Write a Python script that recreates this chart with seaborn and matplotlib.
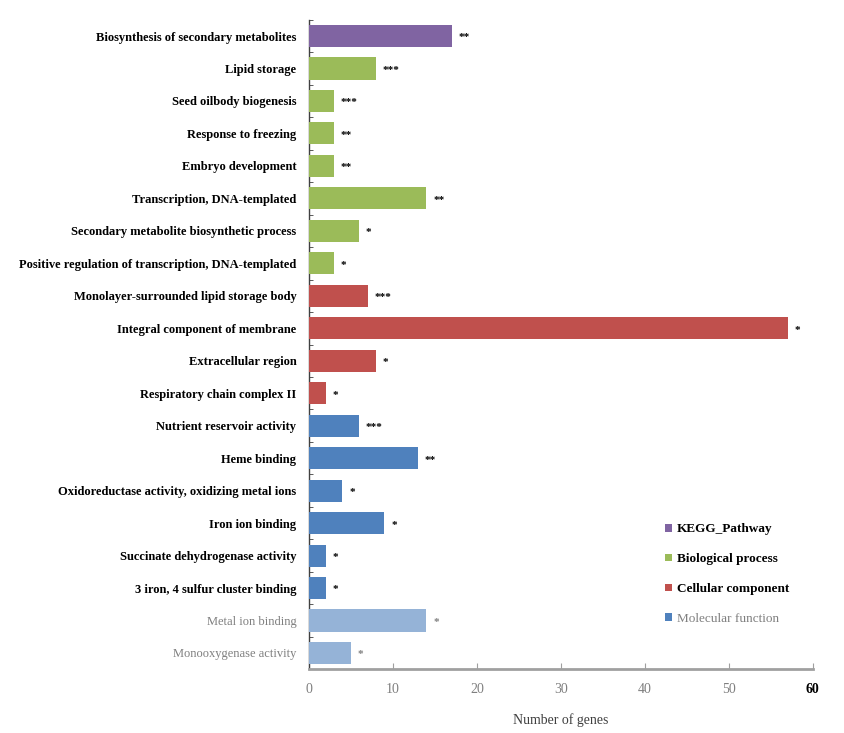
import numpy as np
import pandas as pd
import matplotlib
matplotlib.use("Agg")
import matplotlib.pyplot as plt
from matplotlib.patches import Patch
import seaborn as sns

# data
terms = [
    "Biosynthesis of secondary metabolites",
    "Lipid storage",
    "Seed oilbody biogenesis",
    "Response to freezing",
    "Embryo development",
    "Transcription, DNA-templated",
    "Secondary metabolite biosynthetic process",
    "Positive regulation of transcription, DNA-templated",
    "Monolayer-surrounded lipid storage body",
    "Integral component of membrane",
    "Extracellular region",
    "Respiratory chain complex II",
    "Nutrient reservoir activity",
    "Heme binding",
    "Oxidoreductase activity, oxidizing metal ions",
    "Iron ion binding",
    "Succinate dehydrogenase activity",
    "3 iron, 4 sulfur cluster binding",
    "Metal ion binding",
    "Monooxygenase activity",
]
n_genes = [17, 8, 3, 3, 3, 14, 6, 3, 7, 57, 8, 2, 6, 13, 4, 9, 2, 2, 14, 5]
stars = ["**", "***", "***", "**", "**", "**", "*", "*", "***", "*",
         "*", "*", "***", "**", "*", "*", "*", "*", "*", "*"]
groups = (["KEGG_Pathway"] + ["Biological process"] * 7 + ["Cellular component"] * 4
          + ["Molecular function"] * 6 + ["Molecular function (other)"] * 2)

group_names = ["KEGG_Pathway", "Biological process", "Cellular component",
               "Molecular function", "Molecular function (other)"]
group_colors = ["#8064A2", "#9BBB59", "#C0504D", "#4F81BD", "#95B3D7"]

df = pd.DataFrame({"term": terms, "n": n_genes, "group": groups})

serif = ["Liberation Serif", "DejaVu Serif"]
plt.rcParams["font.family"] = serif

fig = plt.figure(figsize=(8.44, 7.33), dpi=100)
ax = fig.add_axes([0.366, 0.087, 0.597, 0.886])

sns.barplot(data=df, y="term", x="n", hue="group", hue_order=group_names,
            palette=group_colors, saturation=1, dodge=False, width=0.68,
            legend=False, orient="h", ax=ax, zorder=3)

ax.set_xlim(0, 60)
ax.set_ylim(len(terms) - 0.5, -0.5)
ax.set_xticks(range(0, 61, 10))
ax.set_xticklabels([str(v) for v in range(0, 61, 10)], fontsize=10, color="#7f7f7f")
ax.get_xticklabels()[-1].set_color("black")
ax.get_xticklabels()[-1].set_fontweight("bold")
ax.tick_params(axis="x", direction="in", length=4, color="#a0a0a0", pad=10)
ax.set_xlabel("Number of genes", fontsize=10, color="#404040", labelpad=12)
ax.set_ylabel("")

ax.set_yticks(range(len(terms)))
ax.set_yticklabels(terms, fontsize=9, fontweight="bold")
for lab in ax.get_yticklabels()[-2:]:
    lab.set_color("#7f7f7f")
    lab.set_fontweight("normal")
ax.tick_params(axis="y", length=0, pad=9)
ax.set_yticks(np.arange(len(terms) + 1) - 0.5, minor=True)
ax.tick_params(axis="y", which="minor", direction="in", length=3, color="#404040")

for s in ["top", "right"]:
    ax.spines[s].set_visible(False)
ax.spines["left"].set_color("#404040")
ax.spines["left"].set_linewidth(1.0)
ax.spines["bottom"].set_color("#a0a0a0")
ax.spines["bottom"].set_linewidth(2.0)

# significance stars
for i, (v, st) in enumerate(zip(n_genes, stars)):
    col = "#7f7f7f" if i >= 18 else "black"
    ax.text(v + 0.8, i + 0.06, st, va="center", ha="left", fontsize=8,
            fontweight="bold", color=col, zorder=4)

# legend
handles = [Patch(facecolor=c) for c in group_colors[:4]]
leg = ax.legend(handles, group_names[:4], loc="lower left",
                bbox_to_anchor=(0.683, 0.05), frameon=False,
                handlelength=0.5, handleheight=0.5, handletextpad=0.4,
                labelspacing=1.35, prop={"family": serif, "weight": "bold", "size": 9.5})
leg.get_texts()[-1].set_color("#7f7f7f")
leg.get_texts()[-1].set_fontweight("normal")

fig.savefig("out.png", dpi=100)
